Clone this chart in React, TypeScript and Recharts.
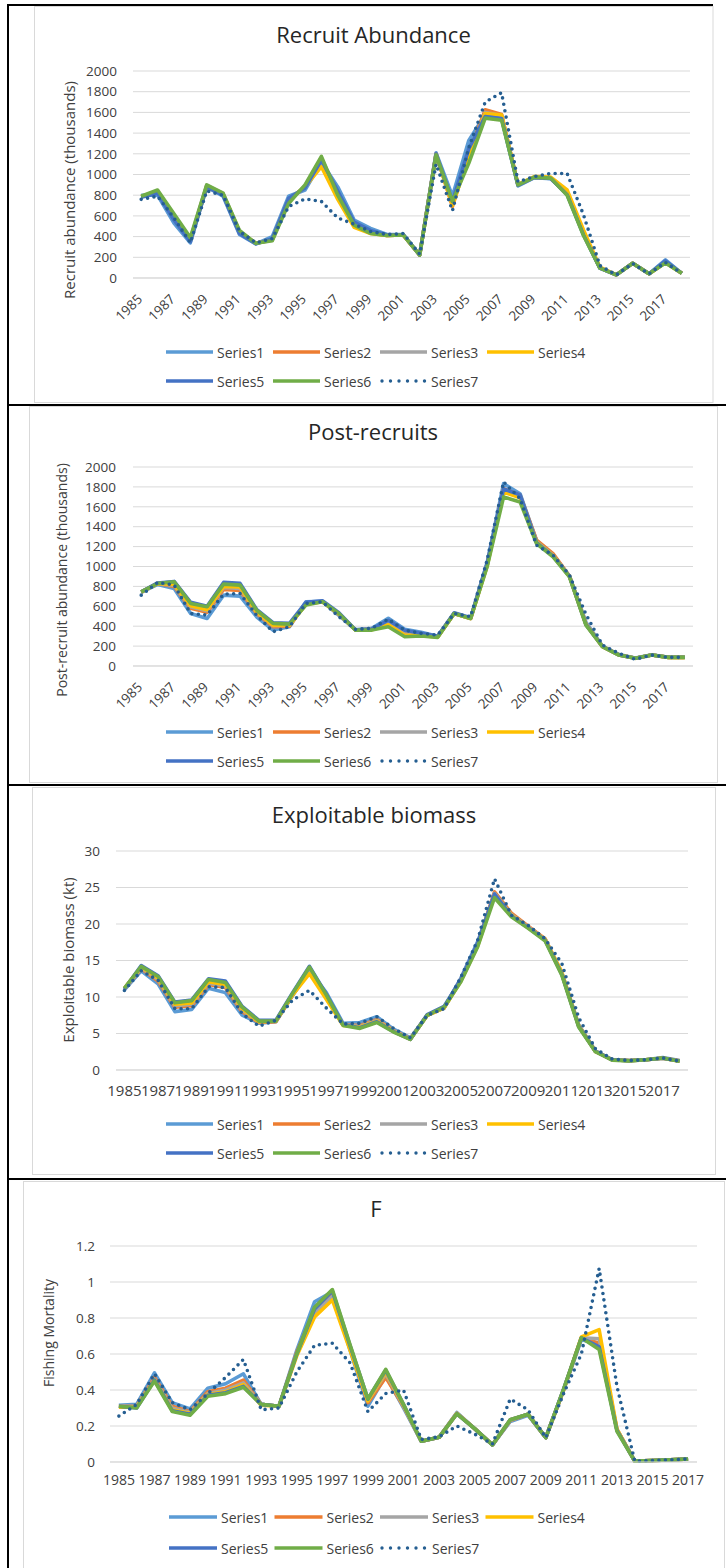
import React from 'react';
import { LineChart, Line, XAxis, YAxis, CartesianGrid } from 'recharts';

// years on the category axis
const years = [1985, 1986, 1987, 1988, 1989, 1990, 1991, 1992, 1993, 1994, 1995, 1996, 1997, 1998, 1999, 2000, 2001, 2002, 2003, 2004, 2005, 2006, 2007, 2008, 2009, 2010, 2011, 2012, 2013, 2014, 2015, 2016, 2017, 2018];
const yearsF = [1985, 1986, 1987, 1988, 1989, 1990, 1991, 1992, 1993, 1994, 1995, 1996, 1997, 1998, 1999, 2000, 2001, 2002, 2003, 2004, 2005, 2006, 2007, 2008, 2009, 2010, 2011, 2012, 2013, 2014, 2015, 2016, 2017];

const seriesNames = ['Series1', 'Series2', 'Series3', 'Series4', 'Series5', 'Series6', 'Series7'];
const seriesColors = ['#5B9BD5', '#ED7D31', '#A5A5A5', '#FFC000', '#4472C4', '#70AD47', '#255E91'];

// Recruit abundance (thousands)
const recruit1 = [800, 800, 530, 340, 880, 790, 420, 330, 400, 790, 850, 1120, 880, 560, 480, 420, 420, 222, 1210, 790, 1330, 1580, 1540, 890, 970, 960, 810, 420, 95, 30, 142, 40, 175, 45];
const recruit2 = [785, 830, 580, 370, 890, 810, 440, 335, 370, 750, 880, 1150, 820, 520, 440, 410, 415, 222, 1200, 690, 1200, 1625, 1580, 900, 975, 965, 820, 430, 100, 30, 142, 40, 150, 45];
const recruit3 = [790, 835, 590, 375, 895, 815, 450, 335, 365, 740, 890, 1160, 810, 515, 435, 410, 415, 222, 1195, 720, 1180, 1600, 1570, 900, 975, 965, 815, 425, 98, 30, 142, 40, 150, 45];
const recruit4 = [785, 840, 570, 360, 880, 810, 450, 335, 370, 760, 880, 1075, 760, 490, 430, 410, 415, 222, 1195, 700, 1170, 1590, 1575, 905, 980, 975, 850, 465, 105, 30, 142, 40, 150, 45];
const recruit5 = [780, 820, 560, 350, 880, 800, 430, 330, 380, 770, 870, 1140, 840, 540, 460, 415, 418, 222, 1200, 740, 1250, 1560, 1540, 895, 972, 962, 805, 415, 95, 30, 142, 40, 165, 45];
const recruit6 = [790, 850, 620, 390, 900, 820, 460, 335, 360, 720, 900, 1175, 800, 510, 430, 410, 415, 222, 1190, 740, 1110, 1545, 1525, 900, 975, 965, 800, 410, 95, 30, 142, 40, 145, 45];
const recruit7 = [760, 790, 580, 340, 840, 800, 450, 340, 380, 690, 765, 740, 580, 520, 450, 420, 430, 230, 1100, 650, 1260, 1700, 1790, 930, 980, 1010, 1010, 610, 120, 30, 140, 40, 150, 45];

// Post-recruit abundance (thousands)
const post1 = [740, 820, 779, 528, 478, 712, 702, 495, 361, 395, 645, 650, 510, 365, 378, 480, 370, 340, 300, 528, 480, 1040, 1833, 1732, 1260, 1120, 900, 440, 200, 115, 80, 112, 88, 88];
const post2 = [742, 830, 800, 580, 540, 770, 760, 530, 395, 400, 630, 648, 520, 362, 370, 440, 340, 320, 295, 528, 478, 1020, 1783, 1716, 1264, 1130, 905, 425, 198, 112, 78, 111, 87, 87];
const post3 = [744, 830, 810, 595, 555, 790, 780, 540, 405, 410, 625, 647, 522, 362, 368, 425, 320, 312, 292, 528, 478, 1010, 1760, 1700, 1250, 1115, 900, 420, 196, 111, 78, 110, 87, 87];
const post4 = [745, 830, 820, 605, 565, 800, 795, 545, 410, 412, 620, 646, 525, 362, 365, 415, 310, 308, 290, 528, 478, 1005, 1749, 1690, 1245, 1110, 900, 418, 195, 111, 77, 110, 87, 87];
const post5 = [746, 835, 850, 640, 600, 840, 830, 570, 435, 428, 640, 655, 535, 365, 370, 460, 360, 330, 298, 535, 485, 1030, 1780, 1720, 1240, 1105, 900, 415, 196, 111, 78, 111, 88, 88];
const post6 = [746, 829, 846, 629, 595, 823, 813, 562, 428, 421, 612, 645, 528, 361, 361, 395, 294, 301, 288, 528, 478, 997, 1699, 1649, 1231, 1097, 896, 411, 194, 110, 77, 110, 87, 87];
const post7 = [712, 840, 813, 528, 512, 722, 729, 512, 344, 395, 629, 645, 495, 368, 380, 470, 360, 328, 311, 528, 495, 1063, 1850, 1682, 1214, 1114, 913, 520, 211, 127, 67, 110, 87, 87];

// Exploitable biomass (kt)
const bio1 = [11.0, 13.6, 11.8, 8.0, 8.3, 11.2, 10.6, 7.5, 6.4, 6.6, 10.2, 13.6, 10.6, 6.4, 6.5, 7.3, 5.6, 4.4, 7.5, 8.5, 12.6, 17.6, 24.0, 21.2, 19.6, 17.9, 13.3, 6.2, 2.6, 1.4, 1.3, 1.4, 1.7, 1.3];
const bio2 = [11.1, 13.9, 12.2, 8.6, 8.8, 11.7, 11.3, 8.0, 6.5, 6.6, 10.3, 13.5, 10.0, 6.2, 6.1, 6.9, 5.4, 4.3, 7.5, 8.5, 12.4, 17.3, 24.4, 21.5, 19.7, 18.0, 13.2, 6.1, 2.6, 1.4, 1.3, 1.4, 1.65, 1.25];
const bio3 = [11.1, 14.0, 12.4, 8.8, 9.0, 11.9, 11.5, 8.2, 6.6, 6.7, 10.4, 13.7, 10.1, 6.2, 6.0, 6.8, 5.35, 4.25, 7.5, 8.5, 12.3, 17.2, 24.2, 21.3, 19.6, 17.9, 13.2, 6.0, 2.55, 1.4, 1.28, 1.4, 1.62, 1.22];
const bio4 = [11.2, 14.1, 12.6, 9.0, 9.2, 12.1, 11.7, 8.4, 6.6, 6.7, 10.3, 13.2, 9.7, 6.1, 5.9, 6.7, 5.3, 4.2, 7.5, 8.5, 12.2, 17.0, 24.0, 21.2, 19.5, 17.9, 13.4, 6.1, 2.5, 1.4, 1.27, 1.4, 1.6, 1.2];
const bio5 = [11.1, 14.3, 12.9, 9.3, 9.6, 12.5, 12.2, 8.7, 6.8, 6.8, 10.6, 14.2, 10.4, 6.2, 5.8, 6.6, 5.25, 4.2, 7.6, 8.7, 12.4, 17.4, 24.1, 21.1, 19.5, 17.8, 13.1, 6.0, 2.55, 1.4, 1.27, 1.4, 1.62, 1.22];
const bio6 = [11.2, 14.2, 12.8, 9.2, 9.5, 12.4, 12.0, 8.6, 6.7, 6.7, 10.5, 14.1, 10.3, 6.1, 5.7, 6.5, 5.2, 4.2, 7.5, 8.6, 12.1, 16.9, 23.6, 21.0, 19.4, 17.7, 13.0, 5.9, 2.5, 1.35, 1.25, 1.4, 1.65, 1.2];
const bio7 = [10.9, 13.6, 12.3, 8.4, 8.4, 11.4, 11.3, 7.7, 6.0, 6.8, 9.6, 10.9, 8.5, 6.3, 6.4, 7.3, 5.7, 4.4, 7.5, 8.4, 12.7, 17.8, 26.2, 21.2, 19.8, 18.0, 14.6, 7.2, 2.9, 1.5, 1.3, 1.4, 1.65, 1.2];

// Fishing mortality
const fish1 = [0.315, 0.32, 0.495, 0.33, 0.295, 0.41, 0.435, 0.49, 0.32, 0.31, 0.62, 0.89, 0.945, 0.62, 0.31, 0.48, 0.3, 0.115, 0.137, 0.275, 0.185, 0.095, 0.225, 0.26, 0.135, 0.4, 0.68, 0.65, 0.18, 0.005, 0.008, 0.012, 0.017];
const fish2 = [0.31, 0.31, 0.47, 0.31, 0.28, 0.39, 0.41, 0.455, 0.32, 0.31, 0.61, 0.84, 0.93, 0.63, 0.33, 0.47, 0.31, 0.115, 0.137, 0.27, 0.185, 0.095, 0.23, 0.265, 0.135, 0.4, 0.69, 0.66, 0.18, 0.005, 0.008, 0.012, 0.017];
const fish3 = [0.31, 0.31, 0.46, 0.3, 0.275, 0.38, 0.4, 0.44, 0.32, 0.31, 0.6, 0.83, 0.92, 0.63, 0.34, 0.49, 0.31, 0.115, 0.137, 0.27, 0.185, 0.095, 0.232, 0.265, 0.135, 0.4, 0.69, 0.685, 0.18, 0.005, 0.008, 0.012, 0.017];
const fish4 = [0.305, 0.305, 0.455, 0.29, 0.27, 0.375, 0.39, 0.43, 0.315, 0.31, 0.59, 0.806, 0.9, 0.62, 0.34, 0.5, 0.315, 0.115, 0.137, 0.27, 0.185, 0.095, 0.235, 0.265, 0.135, 0.4, 0.695, 0.735, 0.183, 0.005, 0.008, 0.012, 0.017];
const fish5 = [0.31, 0.3, 0.455, 0.285, 0.265, 0.37, 0.385, 0.42, 0.32, 0.31, 0.6, 0.85, 0.95, 0.645, 0.35, 0.51, 0.32, 0.115, 0.137, 0.268, 0.185, 0.095, 0.235, 0.265, 0.135, 0.405, 0.69, 0.64, 0.175, 0.005, 0.008, 0.012, 0.017];
const fish6 = [0.31, 0.3, 0.45, 0.28, 0.26, 0.365, 0.38, 0.415, 0.32, 0.31, 0.6, 0.86, 0.958, 0.65, 0.35, 0.515, 0.32, 0.115, 0.137, 0.267, 0.185, 0.095, 0.235, 0.265, 0.135, 0.405, 0.69, 0.625, 0.17, 0.005, 0.008, 0.012, 0.017];
const fish7 = [0.255, 0.32, 0.49, 0.33, 0.29, 0.38, 0.47, 0.57, 0.29, 0.3, 0.5, 0.648, 0.66, 0.55, 0.28, 0.38, 0.4, 0.125, 0.14, 0.2, 0.155, 0.1, 0.35, 0.29, 0.135, 0.38, 0.6, 1.075, 0.42, 0.005, 0.008, 0.012, 0.017];

const abundanceTicks = [0, 200, 400, 600, 800, 1000, 1200, 1400, 1600, 1800, 2000];
const biomassTicks = [0, 5, 10, 15, 20, 25, 30];
const fishingTicks = [0, 0.2, 0.4, 0.6, 0.8, 1, 1.2];

const TXT = '#404040';
const GRID = '#d9d9d9';
const FONT = '"Open Sans", "Noto Sans", sans-serif';

const buildRows = (cats: number[], series: number[][]) =>
  cats.map((year, i) => {
    const row: Record<string, number> = { year };
    seriesNames.forEach((name, s) => {
      row[name] = series[s][i];
    });
    return row;
  });

const RotatedTick = (props: any) => {
  const { x, y, payload } = props;
  const tx = x + 2;
  const ty = y + 14;
  return (
    <text x={tx} y={ty} transform={`rotate(-45 ${tx} ${ty})`} textAnchor="end" fontSize={13.5} fill={TXT} fontFamily={FONT}>
      {payload.value}
    </text>
  );
};

interface PanelProps {
  top: number;
  height: number;
  plotTop: number;
  plotBottom: number;
  plotLeft: number;
  plotRight: number;
  cats: number[];
  series: number[][];
  domain: [number, number];
  ticks: number[];
  rotated: boolean;
  xFont: number;
  xTickMargin: number;
  yTickMargin: number;
}

const YW = 60;

const Panel: React.FC<PanelProps> = (p) => {
  const rows = buildRows(p.cats, p.series);
  const xh = p.rotated ? 50 : 30;
  const plotW = p.plotRight - p.plotLeft;
  const pad = plotW / (2 * p.cats.length);
  return (
    <div style={{ position: 'absolute', left: 0, top: p.top }}>
      <LineChart
        width={726}
        height={p.height}
        data={rows}
        margin={{ top: p.plotTop, right: 726 - p.plotRight, bottom: p.height - p.plotBottom - xh, left: p.plotLeft - YW }}
      >
        <CartesianGrid vertical={false} stroke={GRID} strokeWidth={1} />
        <XAxis
          dataKey="year"
          interval={1}
          tickLine={false}
          axisLine={{ stroke: GRID }}
          height={xh}
          padding={{ left: pad, right: pad }}
          tickMargin={p.xTickMargin}
          tick={p.rotated ? RotatedTick : { fontSize: p.xFont, fill: TXT, fontFamily: FONT }}
        />
        <YAxis
          type="number"
          domain={p.domain}
          ticks={p.ticks}
          interval={0}
          width={YW}
          axisLine={false}
          tickLine={false}
          tickMargin={p.yTickMargin}
          tick={{ fontSize: 13.5, fill: TXT, fontFamily: FONT }}
        />
        {seriesNames.map((name, i) => (
          <Line
            key={name}
            type="linear"
            dataKey={name}
            stroke={seriesColors[i]}
            strokeWidth={3.6}
            strokeLinejoin="round"
            strokeLinecap={i === 6 ? 'round' : 'butt'}
            strokeDasharray={i === 6 ? '0 6.5' : undefined}
            dot={false}
            activeDot={false}
            isAnimationActive={false}
          />
        ))}
      </LineChart>
    </div>
  );
};

interface LegendProps {
  x: number;
  rows: [number, number];
  pitch: number;
  lineLen: number;
}

const ChartLegend: React.FC<LegendProps> = ({ x, rows, pitch, lineLen }) => (
  <g>
    {seriesNames.map((name, i) => {
      const col = i < 4 ? i : i - 4;
      const y = i < 4 ? rows[0] : rows[1];
      const lx = x + col * pitch;
      return (
        <g key={name}>
          <line
            x1={i === 6 ? lx + 2 : lx}
            x2={lx + lineLen}
            y1={y}
            y2={y}
            stroke={seriesColors[i]}
            strokeWidth={i === 6 ? 3.4 : 3.5}
            strokeLinecap={i === 6 ? 'round' : 'butt'}
            strokeDasharray={i === 6 ? '0 8.5' : undefined}
          />
          <text x={lx + lineLen + 4} y={y} dominantBaseline="central" fontSize={14} fill={TXT} fontFamily={FONT}>
            {name}
          </text>
        </g>
      );
    })}
  </g>
);

const App: React.FC = () => {
  return (
    <div style={{ position: 'absolute', left: 0, top: 0, width: 726, height: 1568, background: '#fff', fontFamily: FONT, overflow: 'hidden' }}>
      <svg width={726} height={1568} style={{ position: 'absolute', left: 0, top: 0 }}>
        {/* chart areas */}
        <rect x={34.5} y={6.5} width={678.5} height={396} fill="none" stroke={GRID} />
        <rect x={29.5} y={406.5} width={688} height={376} fill="none" stroke={GRID} />
        <rect x={32.5} y={787.5} width={683} height={387} fill="none" stroke={GRID} />
        <rect x={23.5} y={1181.5} width={701} height={400} fill="none" stroke={GRID} />
        {/* table rules */}
        <line x1={8} x2={713} y1={5} y2={5} stroke="#000" strokeWidth={2} />
        <line x1={8} x2={8} y1={4} y2={1568} stroke="#000" strokeWidth={2} />
        <line x1={8} x2={726} y1={405} y2={405} stroke="#000" strokeWidth={2} />
        <line x1={8} x2={726} y1={785} y2={785} stroke="#000" strokeWidth={2} />
        <line x1={8} x2={726} y1={1179} y2={1179} stroke="#000" strokeWidth={2} />

        {/* titles */}
        <text x={373.5} y={43} textAnchor="middle" fontSize={22} fill="#262626" fontFamily={FONT}>Recruit Abundance</text>
        <text x={373} y={440} textAnchor="middle" fontSize={22} fill="#262626" fontFamily={FONT}>Post-recruits</text>
        <text x={374} y={823} textAnchor="middle" fontSize={22} fill="#262626" fontFamily={FONT}>Exploitable biomass</text>
        <text x={376} y={1217} textAnchor="middle" fontSize={22} fill="#262626" fontFamily={FONT}>F</text>

        {/* axis titles */}
        <text x={75} y={190} transform="rotate(-90 75 190)" textAnchor="middle" fontSize={15} fill={TXT} fontFamily={FONT}>Recruit abundance (thousands)</text>
        <text x={67} y={580} transform="rotate(-90 67 580)" textAnchor="middle" fontSize={14} fill={TXT} fontFamily={FONT}>Post-recruit abundance (thousands)</text>
        <text x={74} y={960} transform="rotate(-90 74 960)" textAnchor="middle" fontSize={15} fill={TXT} fontFamily={FONT}>Exploitable biomass (kt)</text>
        <text x={54} y={1333} transform="rotate(-90 54 1333)" textAnchor="middle" fontSize={14} fill={TXT} fontFamily={FONT}>Fishing Mortality</text>

        <ChartLegend x={166} rows={[352, 381]} pitch={107} lineLen={47} />
        <ChartLegend x={166} rows={[732, 761]} pitch={107} lineLen={47} />
        <ChartLegend x={166} rows={[1124, 1153]} pitch={107} lineLen={47} />
        <ChartLegend x={169} rows={[1517, 1548]} pitch={105.5} lineLen={48} />
      </svg>

      <Panel
        top={0}
        height={405}
        plotTop={71}
        plotBottom={278}
        plotLeft={133}
        plotRight={690}
        cats={years}
        series={[recruit1, recruit2, recruit3, recruit4, recruit5, recruit6, recruit7]}
        domain={[0, 2000]}
        ticks={abundanceTicks}
        rotated
        xFont={13}
        xTickMargin={2}
        yTickMargin={10}
      />
      <Panel
        top={405}
        height={380}
        plotTop={62}
        plotBottom={261}
        plotLeft={133}
        plotRight={693}
        cats={years}
        series={[post1, post2, post3, post4, post5, post6, post7]}
        domain={[0, 2000]}
        ticks={abundanceTicks}
        rotated
        xFont={13}
        xTickMargin={2}
        yTickMargin={11}
      />
      <Panel
        top={785}
        height={394}
        plotTop={66}
        plotBottom={285}
        plotLeft={116}
        plotRight={688}
        cats={years}
        series={[bio1, bio2, bio3, bio4, bio5, bio6, bio7]}
        domain={[0, 30]}
        ticks={biomassTicks}
        rotated={false}
        xFont={15}
        xTickMargin={9}
        yTickMargin={10}
      />
      <Panel
        top={1179}
        height={389}
        plotTop={67}
        plotBottom={283}
        plotLeft={110}
        plotRight={697}
        cats={yearsF}
        series={[fish1, fish2, fish3, fish4, fish5, fish6, fish7]}
        domain={[0, 1.2]}
        ticks={fishingTicks}
        rotated={false}
        xFont={14}
        xTickMargin={7}
        yTickMargin={9}
      />
    </div>
  );
};

export default App;
